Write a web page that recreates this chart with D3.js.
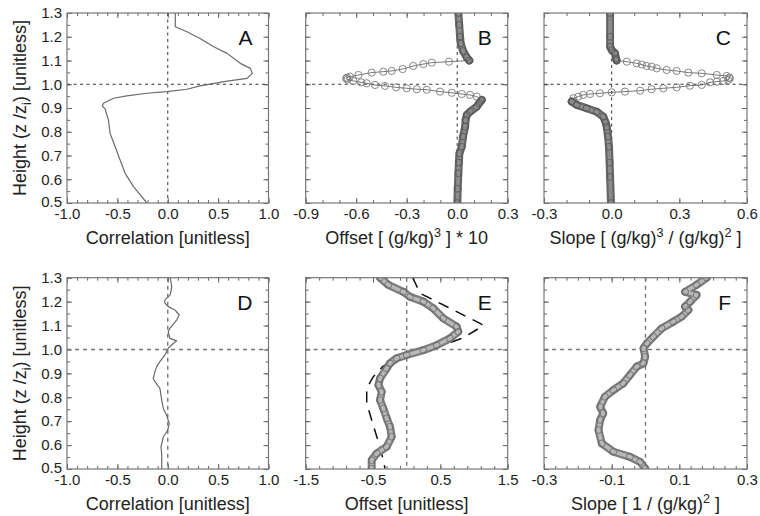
<!DOCTYPE html>
<html><head><meta charset="utf-8">
<script src="https://cdn.jsdelivr.net/npm/d3@7"></script>
<style>body{margin:0;background:#fff}</style>
</head><body><svg id="c" width="760" height="516"></svg>
<script>
// ---------- DATA (height z/zi, x value) ----------
const heightMajor = [0.5,0.6,0.7,0.8,0.9,1.0,1.1,1.2,1.3];
const heightMinorStep = 0.05;

const corrA = [[1.30,0.075],[1.242,0.075],[1.221,0.19],[1.193,0.32],[1.158,0.456],[1.13,0.589],[1.088,0.72],[1.067,0.82],[1.046,0.838],[1.025,0.788],[1.013,0.59],[0.993,0.32],[0.979,0.19],[0.969,-0.008],[0.962,-0.207],[0.951,-0.406],[0.941,-0.539],[0.92,-0.639],[0.908,-0.649],[0.895,-0.62],[0.878,-0.61],[0.85,-0.589],[0.793,-0.572],[0.737,-0.522],[0.681,-0.473],[0.625,-0.423],[0.569,-0.34],[0.5,-0.207]];

const offsetB_top = [[1.30,0.007],[1.25,0.012],[1.2,0.017],[1.172,0.021],[1.14,0.035],[1.113,0.057],[1.10,0.072]];
const offsetB_sparse = [[1.10,0.072],[1.095,-0.049],[1.091,-0.151],[1.085,-0.201],[1.077,-0.261],[1.064,-0.324],[1.056,-0.389],[1.053,-0.439],[1.049,-0.508],[1.039,-0.587],[1.032,-0.637],[1.028,-0.655],[1.024,-0.66],[1.02,-0.652],[1.014,-0.617],[1.008,-0.57],[1.004,-0.538],[0.997,-0.488],[0.993,-0.429],[0.987,-0.363],[0.983,-0.3],[0.979,-0.24],[0.977,-0.181],[0.969,-0.102],[0.964,-0.032],[0.959,0.027],[0.955,0.076],[0.948,0.116],[0.934,0.146]];
const offsetB_bottom = [[0.934,0.146],[0.92,0.13],[0.905,0.116],[0.884,0.076],[0.871,0.057],[0.85,0.05],[0.821,0.047],[0.78,0.035],[0.737,0.027],[0.709,0.013],[0.67,0.01],[0.625,0.007],[0.56,0.003],[0.5,0.001]];

const slopeC_top = [[1.30,-0.007],[1.2,-0.007],[1.158,-0.007],[1.144,0.0],[1.13,0.015],[1.109,0.019],[1.10,0.022]];
const slopeC_sparse = [[1.10,0.022],[1.095,0.067],[1.088,0.111],[1.083,0.134],[1.077,0.155],[1.074,0.177],[1.067,0.2],[1.06,0.244],[1.056,0.288],[1.049,0.34],[1.046,0.399],[1.039,0.466],[1.035,0.51],[1.028,0.522],[1.025,0.524],[1.018,0.517],[1.014,0.495],[1.011,0.466],[1.008,0.436],[0.997,0.399],[0.994,0.347],[0.987,0.288],[0.983,0.229],[0.979,0.177],[0.973,0.126],[0.969,0.059],[0.966,0.0],[0.962,-0.052],[0.959,-0.096],[0.955,-0.126],[0.948,-0.148],[0.941,-0.17],[0.927,-0.177]];
const slopeC_bottom = [[0.927,-0.177],[0.913,-0.155],[0.899,-0.111],[0.884,-0.066],[0.863,-0.037],[0.84,-0.027],[0.821,-0.022],[0.78,-0.016],[0.737,-0.012],[0.67,-0.009],[0.61,-0.007],[0.5,-0.003]];

const corrD = [[1.30,0.024],[1.262,0.04],[1.228,0.024],[1.207,-0.028],[1.195,-0.03],[1.179,0.005],[1.165,0.071],[1.144,0.114],[1.123,0.088],[1.088,0.021],[1.074,0.005],[1.046,0.021],[1.036,0.088],[1.025,0.055],[1.005,0.005],[0.977,-0.028],[0.949,-0.078],[0.928,-0.11],[0.907,-0.127],[0.879,-0.144],[0.865,-0.127],[0.837,-0.078],[0.788,-0.06],[0.753,-0.044],[0.725,-0.011],[0.69,0.015],[0.662,-0.001],[0.634,-0.044],[0.592,-0.067],[0.564,-0.06],[0.5,-0.06]];

const offsetE = [[1.30,-0.396],[1.27,-0.273],[1.241,-0.05],[1.22,0.049],[1.2,0.247],[1.172,0.395],[1.13,0.544],[1.095,0.743],[1.074,0.767],[1.046,0.643],[1.018,0.446],[0.997,0.247],[0.977,0.0],[0.963,-0.149],[0.942,-0.248],[0.921,-0.297],[0.879,-0.396],[0.851,-0.42],[0.823,-0.371],[0.788,-0.396],[0.753,-0.347],[0.712,-0.297],[0.677,-0.248],[0.635,-0.223],[0.593,-0.297],[0.565,-0.446],[0.537,-0.52],[0.502,-0.52]];
const offsetE_model = [[1.30,0.09],[1.235,0.198],[1.109,1.089],[1.10,1.14],[1.074,0.99],[1.046,0.817],[1.0,0.35],[0.97,0.0],[0.93,-0.35],[0.886,-0.496],[0.837,-0.594],[0.774,-0.594],[0.705,-0.52],[0.614,-0.421],[0.537,-0.347],[0.502,-0.322]];

const slopeF = [[1.30,0.181],[1.27,0.151],[1.241,0.117],[1.228,0.151],[1.2,0.132],[1.179,0.117],[1.165,0.127],[1.137,0.107],[1.116,0.082],[1.088,0.048],[1.053,0.023],[1.025,0.004],[1.005,-0.006],[0.969,-0.001],[0.942,-0.006],[0.928,-0.026],[0.893,-0.046],[0.858,-0.066],[0.83,-0.095],[0.802,-0.12],[0.76,-0.134],[0.733,-0.125],[0.705,-0.134],[0.663,-0.139],[0.607,-0.129],[0.572,-0.095],[0.551,-0.046],[0.53,-0.016],[0.502,-0.001]];

// x axis definitions
const xDomA = [-1,1], xMajA = [-1,-0.5,0,0.5,1], xMinA = 0.1;
const xDomB = [-0.9,0.3], xMajB = [-0.9,-0.6,-0.3,0,0.3], xMinB = 0.1;
const xDomC = [-0.3,0.6], xMajC = [-0.3,0,0.3,0.6], xMinC = 0.1;
const xDomE = [-1.5,1.5], xMajE = [-1.5,-0.5,0.5,1.5], xMinE = 0.2;
const xDomF = [-0.3,0.3], xMajF = [-0.3,-0.1,0.1,0.3], xMinF = 0.1/3;

const titleA = [{t:'Correlation [unitless]'}];
const titleB = [{t:'Offset [ (g/kg)'},{t:'3',sup:1},{t:' ] * 10'}];
const titleC = [{t:'Slope [ (g/kg)'},{t:'3',sup:1},{t:' / (g/kg)'},{t:'2',sup:1},{t:' ]'}];
const titleE = [{t:'Offset [unitless]'}];
const titleF = [{t:'Slope [ 1 / (g/kg)'},{t:'2',sup:1},{t:' ]'}];
const yTitle = [{t:'Height (z /z'},{t:'i',sub:1},{t:') [unitless]'}];

// ---------- LAYOUT ----------
const cols = [[67,268.5],[305.7,507.7],[544,747]];
const rows = [[13,203],[277.7,469]];
const FONT = '"Liberation Sans", Arial, Helvetica, sans-serif';
const svg = d3.select('#c');

const panels = [
 {id:'A',c:0,r:0,dom:xDomA,maj:xMajA,minS:xMinA,title:titleA,ylab:true},
 {id:'B',c:1,r:0,dom:xDomB,maj:xMajB,minS:xMinB,title:titleB},
 {id:'C',c:2,r:0,dom:xDomC,maj:xMajC,minS:xMinC,title:titleC},
 {id:'D',c:0,r:1,dom:xDomA,maj:xMajA,minS:xMinA,title:titleA,ylab:true},
 {id:'E',c:1,r:1,dom:xDomE,maj:xMajE,minS:xMinE,title:titleE},
 {id:'F',c:2,r:1,dom:xDomF,maj:xMajF,minS:xMinF,title:titleF}
];

function richText(sel, segs, size){
  segs.forEach((s,i)=>{
    const ts = sel.append('tspan').text(s.t);
    if (s.sup || s.sub) ts.attr('font-size', size*0.7);
    if (i>0){
      const prev = segs[i-1];
      let dy = 0;
      if (prev.sup) dy += size*0.4;
      if (prev.sub) dy -= size*0.25;
      if (s.sup) dy -= size*0.4;
      if (s.sub) dy += size*0.25;
      ts.attr('dy', dy);
    }
  });
}

const P = {};
panels.forEach(p=>{
  const [x0,x1] = cols[p.c], [y0,y1] = rows[p.r];
  const x = d3.scaleLinear().domain(p.dom).range([x0,x1]);
  const y = d3.scaleLinear().domain([0.5,1.3]).range([y1,y0]);
  const n = Math.round((p.dom[1]-p.dom[0])/p.minS);
  const minor = d3.range(n+1).map(i=>p.dom[0]+i*p.minS);
  const yMinor = d3.range(17).map(i=>0.5+i*heightMinorStep);
  const g = svg.append('g');
  const tickCol = '#666';
  const style = a => { a.select('.domain').remove(); a.selectAll('line').attr('stroke',tickCol).attr('stroke-width',1); };
  // minor ticks
  g.append('g').attr('transform',`translate(0,${y1})`).call(d3.axisBottom(x).tickValues(minor).tickSize(-3).tickFormat('')).call(style);
  g.append('g').attr('transform',`translate(0,${y0})`).call(d3.axisTop(x).tickValues(minor).tickSize(-3).tickFormat('')).call(style);
  g.append('g').attr('transform',`translate(${x0},0)`).call(d3.axisLeft(y).tickValues(yMinor).tickSize(-3).tickFormat('')).call(style);
  g.append('g').attr('transform',`translate(${x1},0)`).call(d3.axisRight(y).tickValues(yMinor).tickSize(-3).tickFormat('')).call(style);
  // major
  const xb = g.append('g').attr('transform',`translate(0,${y1})`).call(d3.axisBottom(x).tickValues(p.maj).tickSize(-5).tickPadding(5).tickFormat(d=>d.toFixed(1))).call(style);
  xb.selectAll('text').attr('font-family',FONT).attr('font-size',15).attr('fill','#222');
  g.append('g').attr('transform',`translate(0,${y0})`).call(d3.axisTop(x).tickValues(p.maj).tickSize(-5).tickFormat('')).call(style);
  const yl = g.append('g').attr('transform',`translate(${x0},0)`).call(d3.axisLeft(y).tickValues(heightMajor).tickSize(-5).tickPadding(5).tickFormat(p.ylab? (d=>d.toFixed(1)) : '')).call(style);
  yl.selectAll('text').attr('font-family',FONT).attr('font-size',15).attr('fill','#222');
  yl.selectAll('.tick').filter(d=>d===0.5).select('text').attr('dy','0.2em');
  g.append('g').attr('transform',`translate(${x1},0)`).call(d3.axisRight(y).tickValues(heightMajor).tickSize(-5).tickFormat('')).call(style);
  // reference lines
  const dark = p.r===0;
  const refC = dark? '#333':'#777', refD = dark? '3,3.5':'4,4', refW = dark?1:1.4;
  g.append('line').attr('x1',x(0)).attr('x2',x(0)).attr('y1',y0).attr('y2',y1).attr('stroke',refC).attr('stroke-dasharray',refD).attr('stroke-width',refW);
  g.append('line').attr('x1',x0).attr('x2',x1).attr('y1',y(1.0)).attr('y2',y(1.0)).attr('stroke',refC).attr('stroke-dasharray',refD).attr('stroke-width',refW);
  // clip
  svg.append('clipPath').attr('id','clip'+p.id).append('rect').attr('x',x0).attr('y',y0).attr('width',x1-x0).attr('height',y1-y0);
  const data = g.append('g').attr('clip-path',`url(#clip${p.id})`);
  // frame
  g.append('rect').attr('x',x0).attr('y',y0).attr('width',x1-x0).attr('height',y1-y0).attr('fill','none').attr('stroke','#777').attr('stroke-width',1.2);
  // letter
  g.append('text').attr('x',x1-16).attr('y',y0+32).attr('text-anchor','end').attr('font-family',FONT).attr('font-size',21).attr('fill','#111').text(p.id);
  // x title
  const tt = g.append('text').attr('x',(x0+x1)/2).attr('y',y1+41).attr('text-anchor','middle').attr('font-family',FONT).attr('font-size',18).attr('fill','#222');
  richText(tt, p.title, 18);
  if (p.ylab){
    const yt = g.append('text').attr('transform',`translate(26,${(y0+y1)/2}) rotate(-90)`).attr('text-anchor','middle').attr('font-family',FONT).attr('font-size',18).attr('fill','#222');
    richText(yt, yTitle, 18);
  }
  P[p.id] = {x,y,data};
});

function lineGen(p){ return d3.line().x(d=>p.x(d[1])).y(d=>p.y(d[0])); }
function plainLine(p, pts, col, w){
  p.data.append('path').attr('d',lineGen(p)(pts)).attr('fill','none').attr('stroke',col).attr('stroke-width',w).attr('stroke-linejoin','round');
}
function band(p, pts, outer, inner, circ){
  p.data.append('path').attr('d',lineGen(p)(pts)).attr('fill','none').attr('stroke',outer).attr('stroke-width',8).attr('stroke-linejoin','round').attr('stroke-linecap','round');
  p.data.append('path').attr('d',lineGen(p)(pts)).attr('fill','none').attr('stroke',inner).attr('stroke-width',3.6).attr('stroke-linejoin','round').attr('stroke-linecap','round');
  p.data.selectAll(null).data(pts).enter().append('circle').attr('cx',d=>p.x(d[1])).attr('cy',d=>p.y(d[0])).attr('r',3.4).attr('fill','none').attr('stroke',circ).attr('stroke-width',0.8);
}
function sparse(p, pts){
  plainLine(p, pts, '#555', 0.8);
  p.data.selectAll(null).data(pts).enter().append('circle').attr('cx',d=>p.x(d[1])).attr('cy',d=>p.y(d[0])).attr('r',3.6).attr('fill','none').attr('stroke','#7a7a7a').attr('stroke-width',0.9);
}

plainLine(P.A, corrA, '#6a6a6a', 1.2);
sparse(P.B, offsetB_sparse);
band(P.B, offsetB_top, '#666', '#8c8c8c', '#555');
band(P.B, offsetB_bottom, '#666', '#8c8c8c', '#555');
sparse(P.C, slopeC_sparse);
band(P.C, slopeC_top, '#666', '#8c8c8c', '#555');
band(P.C, slopeC_bottom, '#666', '#8c8c8c', '#555');
plainLine(P.D, corrD, '#6a6a6a', 1.2);
P.E.data.append('path').attr('d',lineGen(P.E)(offsetE_model)).attr('fill','none').attr('stroke','#111').attr('stroke-width',1.5).attr('stroke-dasharray','11,8');
band(P.E, offsetE, '#7c7c7c', '#b8b8b8', '#6a6a6a');
band(P.F, slopeF, '#7c7c7c', '#b8b8b8', '#6a6a6a');
</script></body></html>
